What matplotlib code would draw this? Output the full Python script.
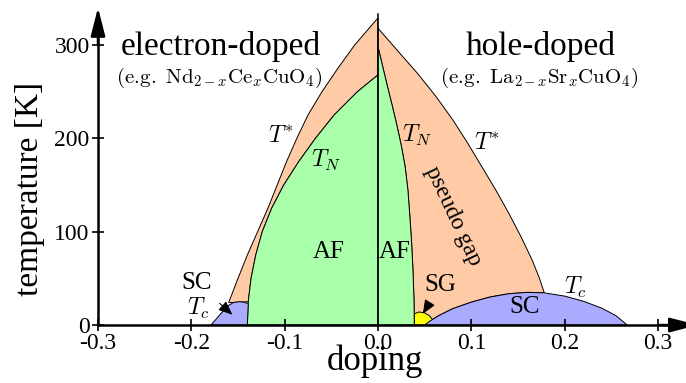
import matplotlib
matplotlib.use("Agg")
import matplotlib.pyplot as plt

plt.rcParams["font.family"] = ["Liberation Serif", "DejaVu Serif"]
plt.rcParams["mathtext.fontset"] = "cm"
plt.rcParams["axes.unicode_minus"] = False

# electron-doped side (doping < 0)
tstar_e_x = [-0.160, -0.150, -0.140, -0.129, -0.118, -0.108, -0.098, -0.087, -0.075, -0.060, -0.043, -0.025, 0.0]
tstar_e_T = [24, 50, 75, 100, 125, 150, 175, 200, 225, 250, 275, 300, 329]
tn_e_x = [-0.140, -0.139, -0.136, -0.131, -0.124, -0.114, -0.101, -0.085, -0.067, -0.047, -0.022, 0.0]
tn_e_T = [0, 25, 50, 75, 100, 125, 150, 175, 200, 225, 250, 268]
sc_e_x = [-0.179, -0.172, -0.166, -0.160, -0.155, -0.149, -0.144, -0.139, -0.140]
sc_e_T = [0, 8, 15, 21, 24, 25, 24.5, 23, 0]

# hole-doped side (doping > 0)
tstar_h_x = [0.000, 0.020, 0.042, 0.062, 0.080, 0.096, 0.111, 0.126, 0.140, 0.153, 0.165, 0.173, 0.178]
tstar_h_T = [318, 295, 270, 245, 220, 195, 170, 145, 120, 95, 70, 50, 35]
tn_h_x = [0.0, 0.005, 0.010, 0.015, 0.020, 0.025, 0.029, 0.032, 0.034, 0.036, 0.0375, 0.0385, 0.039]
tn_h_T = [298, 277, 256, 236, 215, 192, 170, 145, 118, 88, 58, 28, 0]
sc_h_x = [0.050, 0.056, 0.065, 0.080, 0.100, 0.120, 0.140, 0.160, 0.178, 0.200, 0.220, 0.240, 0.255, 0.267]
sc_h_T = [0, 4.5, 10, 17.5, 24.5, 30, 33.5, 35, 34.5, 31, 25.5, 18, 10, 0]
sg_x = [0.039, 0.039, 0.044, 0.050, 0.055, 0.060, 0.062]
sg_T = [0, 12, 14, 13, 10, 4, 0]

xticks = [-0.3, -0.2, -0.1, 0.0, 0.1, 0.2, 0.3]
xtick_labels = ["-0.3", "-0.2", "-0.1", "0.0", "0.1", "0.2", "0.3"]
yticks = [0, 100, 200, 300]

c_pg = "#ffcba6"
c_af = "#aaffaa"
c_sc = "#aaaaff"
c_sg = "#ffff00"
edge = dict(edgecolor="k", linewidth=0.7)

fig = plt.figure(figsize=(6.86, 3.83), dpi=100)
ax = fig.add_axes([0, 0, 1, 1])
ax.set_xlim(-0.405, 0.330)
ax.set_ylim(-62.1, 348.2)

# pseudogap regions, between T* and T_N
pg_e_x = tstar_e_x + [0.0] + tn_e_x[::-1][:-1]
pg_e_T = tstar_e_T + [268] + tn_e_T[::-1][:-1]
ax.fill(pg_e_x, pg_e_T, facecolor=c_pg, **edge)

dome_top = [i for i, x in enumerate(sc_h_x) if x <= 0.178]
pg_h_x = tstar_h_x + [sc_h_x[i] for i in dome_top[::-1]] + tn_h_x[::-1]
pg_h_T = tstar_h_T + [sc_h_T[i] for i in dome_top[::-1]] + tn_h_T[::-1]
ax.fill(pg_h_x, pg_h_T, facecolor=c_pg, **edge)

# antiferromagnetic regions
ax.fill(tn_e_x + [0.0], tn_e_T + [0], facecolor=c_af, **edge)
ax.fill(tn_h_x + [0.0], tn_h_T + [0], facecolor=c_af, **edge)

# spin glass and superconducting domes
ax.fill(sg_x, sg_T, facecolor=c_sg, **edge)
ax.fill(sc_h_x, sc_h_T, facecolor=c_sc, **edge)
ax.fill(sc_e_x, sc_e_T, facecolor=c_sc, **edge)

ax.plot([0, 0], [0, 333], color="k", lw=1.1)

# axes with arrow heads
for s in ["top", "right"]:
    ax.spines[s].set_visible(False)
ax.spines["left"].set_position(("data", -0.3))
ax.spines["bottom"].set_position(("data", 0))
ax.spines["left"].set_bounds(0, 320)
ax.spines["bottom"].set_bounds(-0.3, 0.32)
ax.spines["left"].set_linewidth(1.8)
ax.spines["bottom"].set_linewidth(1.8)
arrow = dict(arrowstyle="-|>,head_length=0.86,head_width=0.22", color="k", lw=1.8,
             shrinkA=0, shrinkB=0, mutation_scale=20)
ax.annotate("", xy=(0.343, 0), xytext=(0.30, 0), arrowprops=arrow, annotation_clip=False)
ax.annotate("", xy=(-0.3, 340), xytext=(-0.3, 300), arrowprops=arrow, annotation_clip=False)

ax.set_xticks(xticks)
ax.set_xticklabels(xtick_labels)
ax.set_yticks(yticks)
ax.tick_params(direction="inout", length=8, width=1.2, labelsize=17, pad=2)

ax.text(-0.003, -48, "doping", fontsize=25, ha="center", va="baseline")
ax.text(-0.373, 146, "temperature [K]", fontsize=24, rotation=90, ha="center", va="center")

ax.text(-0.168, 298, "electron-doped", fontsize=24, ha="center", va="center")
ax.text(-0.170, 265, r"$(\mathrm{e.\!g.}\ \mathrm{Nd}_{2-x}\mathrm{Ce}_x\mathrm{CuO}_4)$",
        fontsize=15, ha="center", va="center")
ax.text(0.174, 298, "hole-doped", fontsize=24, ha="center", va="center")
ax.text(0.173, 265, r"$(\mathrm{e.\!g.}\ \mathrm{La}_{2-x}\mathrm{Sr}_x\mathrm{CuO}_4)$",
        fontsize=15, ha="center", va="center")

ax.text(-0.104, 202, r"$T^{*}$", fontsize=17, ha="center", va="center")
ax.text(-0.056, 176, r"$T_N$", fontsize=17, ha="center", va="center")
ax.text(0.042, 203, r"$T_N$", fontsize=17, ha="center", va="center")
ax.text(0.117, 195, r"$T^{*}$", fontsize=17, ha="center", va="center")
ax.text(0.212, 40, r"$T_c$", fontsize=17, ha="center", va="center")
ax.text(-0.192, 18, r"$T_c$", fontsize=17, ha="center", va="center")

ax.text(-0.053, 78, "AF", fontsize=18, ha="center", va="center")
ax.text(0.018, 78, "AF", fontsize=18, ha="center", va="center")
ax.text(0.157, 19, "SC", fontsize=18, ha="center", va="center")
ax.text(0.081, 117, "pseudo gap", fontsize=17, rotation=-65, ha="center", va="center")

ax.annotate("SC", xy=(-0.156, 11), xytext=(-0.194, 45), fontsize=18, ha="center", va="center",
            arrowprops=dict(arrowstyle="-|>,head_length=0.6,head_width=0.25", color="k", lw=0.8,
                            shrinkA=7, shrinkB=0, mutation_scale=14))
ax.annotate("SG", xy=(0.048, 12), xytext=(0.067, 43), fontsize=18, ha="center", va="center",
            arrowprops=dict(arrowstyle="-|>,head_length=0.6,head_width=0.25", color="k", lw=0.8,
                            shrinkA=7, shrinkB=0, mutation_scale=14))

fig.savefig("out.png", dpi=100)
